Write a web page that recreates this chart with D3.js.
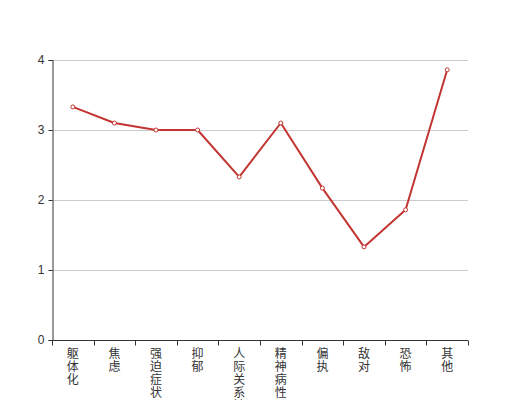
<!DOCTYPE html>
<html>
<head>
<meta charset="utf-8">
<script src="https://cdn.jsdelivr.net/npm/d3@7"></script>
<style>
  body { margin: 0; background: #fff; }
  text { font-family: "Noto Sans CJK SC", sans-serif; }
</style>
</head>
<body>
<div id="chart"></div>
<script>
const categories = ['躯体化', '焦虑', '强迫症状', '抑郁', '人际关系敏感', '精神病性', '偏执', '敌对', '恐怖', '其他'];
const values = [3.33, 3.1, 3.0, 3.0, 2.33, 3.1, 2.17, 1.33, 1.86, 3.86];
const yTicks = [0, 1, 2, 3, 4];

const W = 520, H = 400;
const margin = {left: 52, right: 52, top: 60, bottom: 60};
const w = W - margin.left - margin.right;
const h = H - margin.top - margin.bottom;

const svg = d3.select('#chart').append('svg')
  .attr('width', W)
  .attr('height', H);

const g = svg.append('g').attr('transform', `translate(${margin.left}, ${margin.top})`);

const x = d3.scaleBand().domain(categories).range([0, w]);
const y = d3.scaleLinear().domain([0, 4]).range([h, 0]);

// grid lines
g.append('g').selectAll('line')
  .data(yTicks.filter(t => t > 0))
  .enter().append('line')
  .attr('x1', 0).attr('x2', w)
  .attr('y1', d => Math.round(y(d)) + 0.5)
  .attr('y2', d => Math.round(y(d)) + 0.5)
  .style('stroke', '#ccc');

// y axis
const yAxis = g.append('g').attr('transform', 'translate(0.5,0)')
  .call(d3.axisLeft(y).tickValues(yTicks).tickSize(4).tickPadding(4).tickFormat(d3.format('d')));
yAxis.select('.domain').style('stroke', '#333');
yAxis.selectAll('.tick line').style('stroke', '#333');
yAxis.selectAll('text').style('fill', '#333').style('font-size', '12px').style('font-family', 'sans-serif');

// x axis with ticks on band boundaries
const xa = g.append('g').attr('transform', `translate(0, ${h + 0.5})`);
xa.append('line').attr('x1', 0).attr('x2', w).style('stroke', '#333');
xa.selectAll('line.tk')
  .data(categories.concat(['__end']))
  .enter().append('line')
  .attr('class', 'tk')
  .attr('x1', (d, i) => Math.round(i * x.bandwidth()) + 0.5)
  .attr('x2', (d, i) => Math.round(i * x.bandwidth()) + 0.5)
  .attr('y1', 0).attr('y2', 5)
  .style('stroke', '#333');

const labels = xa.selectAll('text.lbl')
  .data(categories)
  .enter().append('text')
  .attr('class', 'lbl')
  .attr('text-anchor', 'middle')
  .style('fill', '#333')
  .style('font-size', '12px');
labels.each(function(d) {
  const t = d3.select(this);
  const cx = x(d) + x.bandwidth() / 2;
  d.split('').forEach((ch, i) => {
    t.append('tspan')
      .attr('x', cx)
      .attr('y', 17 + i * 13)
      .text(ch);
  });
});

// line
const line = d3.line()
  .x((d, i) => x(categories[i]) + x.bandwidth() / 2)
  .y(d => y(d));

g.append('path')
  .datum(values)
  .attr('d', line)
  .style('fill', 'none')
  .style('stroke', '#c23531')
  .style('stroke-width', 2)
  .style('stroke-linejoin', 'bevel');

g.append('g').selectAll('circle')
  .data(values)
  .enter().append('circle')
  .attr('cx', (d, i) => x(categories[i]) + x.bandwidth() / 2)
  .attr('cy', d => y(d))
  .attr('r', 2)
  .style('fill', '#fff')
  .style('stroke', '#c23531')
  .style('stroke-width', 1);
</script>
</body>
</html>
